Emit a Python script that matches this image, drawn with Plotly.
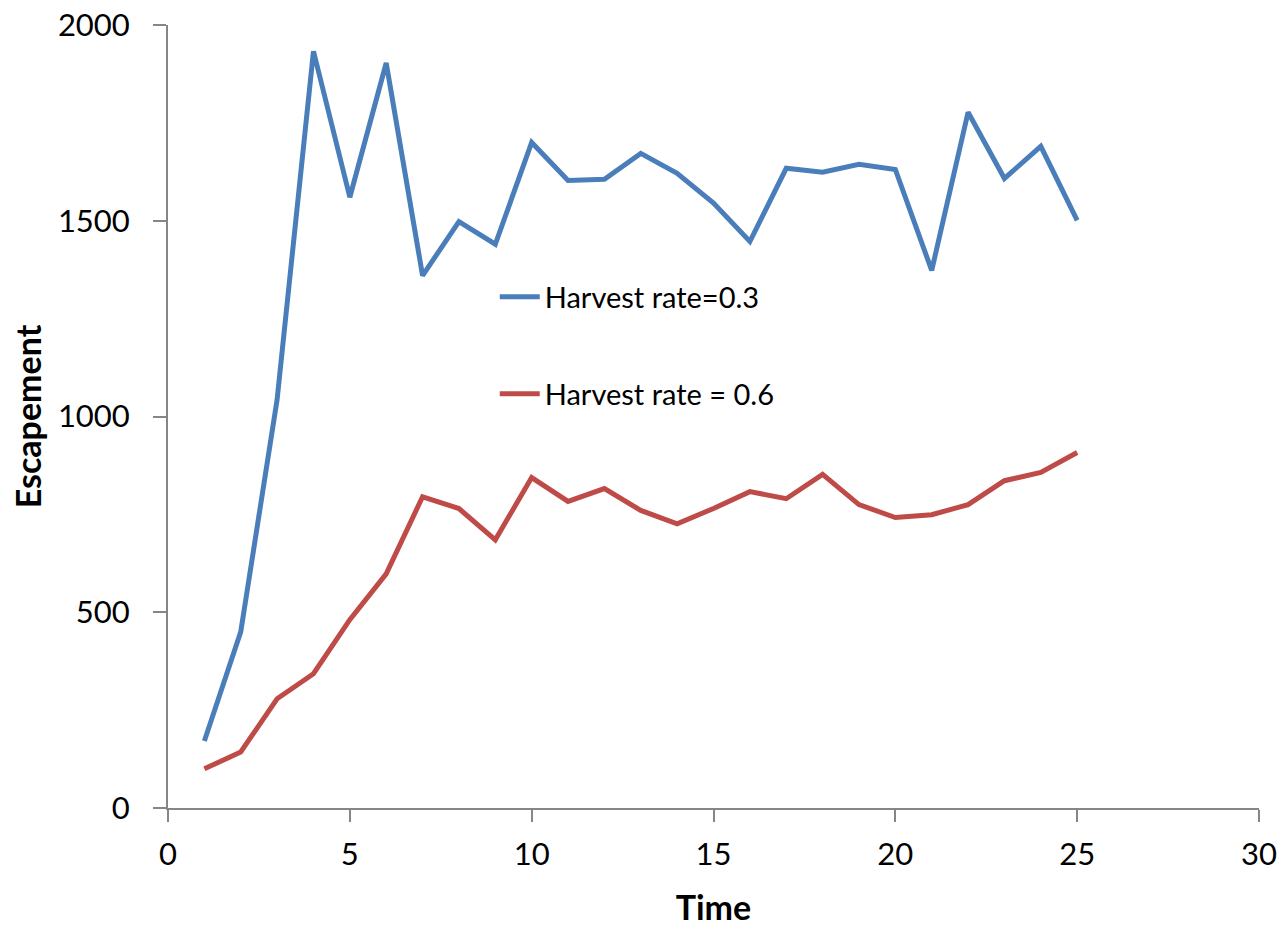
import plotly.graph_objects as go

time = list(range(1, 26))
rate_03 = [171, 450, 1043, 1933, 1560, 1903, 1360, 1498, 1440, 1700, 1603, 1606, 1672,
           1621, 1545, 1447, 1634, 1624, 1644, 1631, 1373, 1777, 1608, 1690, 1501]
rate_06 = [100, 143, 279, 343, 481, 598, 795, 765, 685, 844, 783, 816, 760, 726, 765,
           808, 790, 852, 775, 742, 749, 775, 836, 857, 908]

FONT = "Lato, 'DejaVu Sans', sans-serif"
AXIS = "#868686"

fig = go.Figure()
fig.add_trace(go.Scatter(x=time, y=rate_03, mode="lines", name="Harvest rate=0.3",
                         line=dict(color="#4A7EBB", width=5), legend="legend"))
fig.add_trace(go.Scatter(x=time, y=rate_06, mode="lines", name="Harvest rate = 0.6",
                         line=dict(color="#BE4B48", width=5), legend="legend2"))

leg = dict(bgcolor="rgba(0,0,0,0)", borderwidth=0, xref="paper", yref="paper",
           xanchor="left", yanchor="middle", font=dict(family=FONT, size=29, color="#000"),
           itemwidth=40)

fig.update_layout(
    width=1286, height=927,
    margin=dict(l=168, r=27, t=25, b=119),
    paper_bgcolor="white", plot_bgcolor="white",
    showlegend=True,
    legend=dict(leg, x=0.2995, y=(808 - 297) / 783),
    legend2=dict(leg, x=0.2995, y=(808 - 394) / 783),
    xaxis=dict(range=[0, 30], tickvals=[0, 5, 10, 15, 20, 25, 30], showgrid=False,
               zeroline=False, showline=True, linecolor=AXIS, linewidth=2,
               ticks="outside", ticklen=12, tickwidth=2, tickcolor=AXIS,
               automargin=False, ticklabelstandoff=6, ticklabeloverflow="allow",
               tickfont=dict(family=FONT, size=31, color="#000"),
               title=dict(text="<b>Time</b>", font=dict(family=FONT, size=34, color="#000"),
                          standoff=28)),
    yaxis=dict(range=[0, 2000], tickvals=[0, 500, 1000, 1500, 2000], showgrid=False,
               zeroline=False, showline=True, linecolor=AXIS, linewidth=2,
               ticks="outside", ticklen=13, tickwidth=2, tickcolor=AXIS,
               ticklabelstandoff=17, automargin=False, ticklabeloverflow="allow",
               tickfont=dict(family=FONT, size=31, color="#000"),
               title=dict(text="<b>Escapement</b>", font=dict(family=FONT, size=34, color="#000"),
                          standoff=6)),
)

fig.write_html("out.html", config={"displayModeBar": False},
               post_script="document.body.style.margin='0px';")
